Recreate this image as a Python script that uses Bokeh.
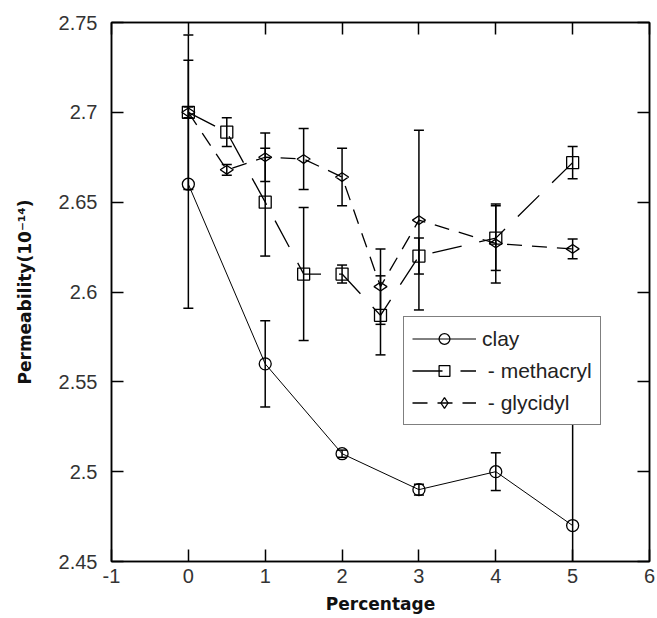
import numpy as np
from bokeh.plotting import figure
from bokeh.models import (ColumnDataSource, LinearAxis, FixedTicker, CustomJSTickFormatter,
                          Legend, LegendItem, Range1d)
from bokeh.embed import file_html
from bokeh.resources import INLINE

# ---- data ----
x_clay = [0, 1, 2, 3, 4, 5]
y_clay = [2.66, 2.56, 2.51, 2.49, 2.50, 2.47]
e_clay = [0.069, 0.024, 0.002, 0.003, 0.0105, 0.07]

x_meth = [0, 0.5, 1, 1.5, 2, 2.5, 3, 4, 5]
y_meth = [2.70, 2.689, 2.65, 2.61, 2.61, 2.587, 2.62, 2.63, 2.672]
e_meth = [0.043, 0.008, 0.03, 0.037, 0.005, 0.022, 0.01, 0.018, 0.009]

x_gly = [0, 0.5, 1, 1.5, 2, 2.5, 3, 4, 5]
y_gly = [2.70, 2.668, 2.675, 2.674, 2.664, 2.603, 2.64, 2.627, 2.624]
e_gly = [0.003, 0.003, 0.0135, 0.017, 0.016, 0.021, 0.05, 0.022, 0.0055]

x_ticks = [-1, 0, 1, 2, 3, 4, 5, 6]
y_ticks = [2.45, 2.5, 2.55, 2.6, 2.65, 2.7, 2.75]

labels = ["clay", " - methacryl", " - glycidyl"]
x_label = "Percentage"
y_label = "Permeability(10\u207b\u00b9\u2074)"

TICK_FONT = "Liberation Sans"
LABEL_FONT = "DejaVu Sans"

p = figure(width=657, height=618, output_backend="svg", toolbar_location=None,
           x_range=Range1d(-1, 6), y_range=Range1d(2.45, 2.75),
           min_border_left=111, min_border_right=8, min_border_top=22, min_border_bottom=57,
           background_fill_color="white", border_fill_color="white")
p.grid.visible = False
p.outline_line_color = "black"
p.outline_line_width = 1.5

yfmt = CustomJSTickFormatter(code="return tick.toFixed(2).replace(/0$/, '')")
xfmt = CustomJSTickFormatter(code="return String(Math.round(tick))")

for ax in p.xaxis:
    ax.ticker = FixedTicker(ticks=x_ticks)
    ax.formatter = xfmt
for ax in p.yaxis:
    ax.ticker = FixedTicker(ticks=y_ticks)
    ax.formatter = yfmt

for ax in list(p.xaxis) + list(p.yaxis):
    ax.major_tick_in = 12
    ax.major_tick_out = 0
    ax.minor_tick_line_color = None
    ax.major_tick_line_color = "black"
    ax.major_tick_line_width = 1.5
    ax.axis_line_color = "black"
    ax.axis_line_width = 1.5
    ax.major_label_text_font = TICK_FONT
    ax.major_label_text_font_size = "20px"
    ax.major_label_text_color = "#333333"
    ax.axis_label_text_font = LABEL_FONT
    ax.axis_label_text_font_size = "17px"
    ax.axis_label_text_font_style = "bold"
    ax.axis_label_text_color = "#111111"

p.xaxis.axis_label = x_label
p.yaxis.axis_label = y_label
p.xaxis.major_label_standoff = 7
p.xaxis.axis_label_standoff = 8
p.yaxis.major_label_standoff = 14
p.yaxis.axis_label_standoff = 21

# mirrored axes (top and right), ticks only, no labels
blank = CustomJSTickFormatter(code="return ''")
top = LinearAxis(ticker=FixedTicker(ticks=x_ticks), formatter=blank,
                 major_tick_in=12, major_tick_out=0,
                 major_tick_line_width=1.5, axis_line_width=1.5,
                 major_label_standoff=0, minor_tick_line_color=None)
right = LinearAxis(ticker=FixedTicker(ticks=y_ticks), formatter=blank,
                   major_tick_in=12, major_tick_out=0,
                   major_tick_line_width=1.5, axis_line_width=1.5,
                   major_label_standoff=0, minor_tick_line_color=None)
p.add_layout(top, "above")
p.add_layout(right, "right")


def series(xs, ys, es, marker, msize, dash, lw, angle=0.0):
    xs = np.array(xs, float); ys = np.array(ys, float); es = np.array(es, float)
    src = ColumnDataSource(dict(x=xs, y=ys, lo=ys - es, hi=ys + es))
    p.segment(x0="x", y0="lo", x1="x", y1="hi", source=src, line_color="black", line_width=1.5)
    p.scatter(x="x", y="lo", source=src, marker="dash", size=10, line_color="black", line_width=1.5)
    p.scatter(x="x", y="hi", source=src, marker="dash", size=10, line_color="black", line_width=1.5)
    ln = p.line(x="x", y="y", source=src, line_color="black", line_width=lw, line_dash=dash)
    sc = p.scatter(x="x", y="y", source=src, marker=marker, size=msize, angle=angle,
                   line_color="black", line_width=1.3, fill_color=None)
    return [ln, sc]


r_clay = series(x_clay, y_clay, e_clay, "circle", 12, "solid", 1.0)
r_meth = series(x_meth, y_meth, e_meth, "square", 12, "30 18", 1.3)
r_gly = series(x_gly, y_gly, e_gly, "diamond", 13, "15 10", 1.3, angle=np.pi / 2)

legend = Legend(items=[LegendItem(label=labels[0], renderers=r_clay),
                       LegendItem(label=labels[1], renderers=r_meth),
                       LegendItem(label=labels[2], renderers=r_gly)],
                location=(292, 136), orientation="vertical")
legend.label_text_font = TICK_FONT
legend.label_text_font_size = "21px"
legend.label_text_color = "#222222"
legend.glyph_width = 64
legend.glyph_height = 27
legend.label_height = 27
legend.label_standoff = 6
legend.spacing = 5
legend.padding = 8
legend.margin = 0
legend.border_line_color = "black"
legend.border_line_width = 1.5
legend.background_fill_color = "white"
legend.background_fill_alpha = 1.0
p.add_layout(legend)

open("out.html", "w").write(file_html(p, INLINE))
